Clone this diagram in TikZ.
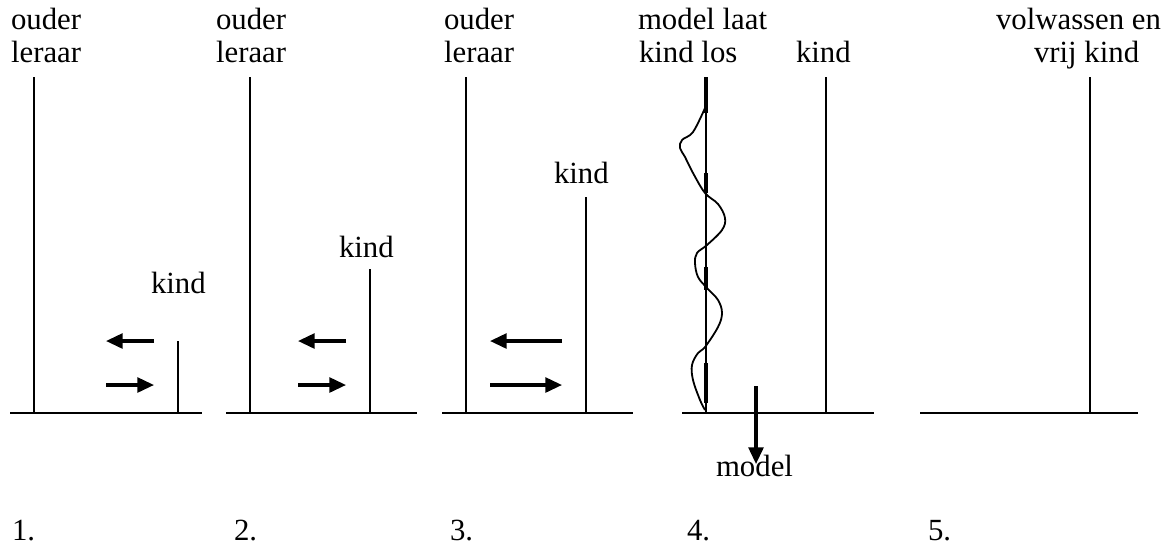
\documentclass[tikz,border=0pt]{standalone}
\usepackage{fontspec}
\setmainfont{Liberation Serif}
\usetikzlibrary{arrows.meta}
\begin{document}
\begin{tikzpicture}[x=0.0137cm, y=-0.0137cm, font=\fontsize{12}{14}\selectfont, line join=round, line width=0.8pt, >={Triangle[length=6.5pt,width=5.8pt]}]
		\useasboundingbox (0,0) rectangle (1171,554);
		% panels 1-3: ground, parent, child
		\foreach \l/\r/\o/\k/\h/\a/\b in {10/202/34/178/341/106/154, 226/417/250/370/269/298/346, 442/633/466/586/197/490/562}{
			\draw (\l,413)--(\r,413);
			\draw (\o,77)--(\o,413);
			\draw (\k,\h)--(\k,413);
			\draw[->, line width=1.2pt] (\b,341)--(\a,341);
			\draw[->, line width=1.2pt] (\a,385)--(\b,385);
		}
		% panel 4
		\path
		(706,77) coordinate (M)
		(706,413) coordinate (M0)
		(826,77) coordinate (K)
		(826,413) coordinate (K0)
		(756,386) coordinate (D)
		(756,464) coordinate (D0)
		;
		\draw (682,413)--(874,413);
		\draw (M)--(M0);
		\foreach \a/\b in {77/113,173/193,267/290,363/403}
		\draw[line width=1.6pt] (706,\a)--(706,\b);
		\draw (K)--(K0);
		\draw[->, line width=1.2pt] (D)--(D0);
		\draw[line width=0.7pt] plot[smooth, tension=0.6] coordinates {(705,108) (693,132) (682,140) (680,148) (685,157) (693,173) (705,193) (718,204) (725,218) (722,230) (707,245) (697,253) (695,263) (698,277) (707,288) (718,300) (722,313) (718,327) (705,347) (698,353) (692,365) (693,380) (700,400) (705,410)};
		% panel 5
		\draw (920,413)--(1138,413);
		\draw (1090,77)--(1090,413);
		% labels
		\foreach \x/\n in {10/1,215/2,443/3}{
			\node[anchor=base west, inner sep=0pt] (ouder\n) at (\x,29) {ouder};
			\node[anchor=base west, inner sep=0pt] (leraar\n) at (\x,62) {leraar};
		}
		\node[anchor=base west, inner sep=0pt] (kind1) at (150,293) {kind};
		\node[anchor=base west, inner sep=0pt] (kind2) at (338,257) {kind};
		\node[anchor=base west, inner sep=0pt] (kind3) at (553,183) {kind};
		\node[anchor=base west, inner sep=0pt] (laat) at (637,29) {model laat};
		\node[anchor=base west, inner sep=0pt] (los) at (638,62) {kind los};
		\node[anchor=base west, inner sep=0pt] (kind4) at (795,62) {kind};
		\node[anchor=base west, inner sep=0pt] (model) at (715,476) {model};
		\node[anchor=base west, inner sep=0pt] (volw) at (995,29) {volwassen en};
		\node[anchor=base west, inner sep=0pt] (vrij) at (1033,62) {vrij kind};
		\foreach \x/\n in {11/1,233/2,449/3,686/4,927/5}
		\node[anchor=base west, inner sep=0pt] (nr\n) at (\x,540) {\n.};
\end{tikzpicture}
\end{document}
